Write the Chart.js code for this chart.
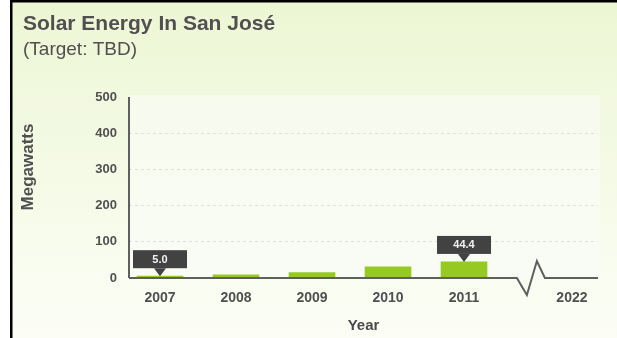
<!DOCTYPE html>
<html>
<head>
<meta charset="utf-8">
<style>
  html, body { margin: 0; padding: 0; background: #ffffff; }
  canvas { display: block; }
</style>
<script src="https://cdn.jsdelivr.net/npm/chart.js@4/dist/chart.umd.min.js"></script>
</head>
<body>
<canvas id="solar" width="617" height="338"></canvas>
<script>
// Installed solar capacity by year
const years = ['2007', '2008', '2009', '2010', '2011'];
const megawatts = [5.0, 9, 15, 31, 44.4];
// Labels along the year axis (2022 sits past the axis break)
const tickLabels = ['2007', '2008', '2009', '2010', '2011', '2022'];
// Years whose value is shown in a callout
const calloutYears = ['2007', '2011'];
const yTickValues = [0, 100, 200, 300, 400, 500];

const chartTitle = 'Solar Energy In San José';
const chartSubtitle = '(Target: TBD)';
const yAxisTitle = 'Megawatts';
const xAxisTitle = 'Year';

// Axis layout: years sit on unit steps, the target year is pushed out past a break
const BREAK_AT = 4.88;
const tickPositions = tickLabels.map((_, i) => (i < years.length ? i : i + 0.42));

const TEXT = '#505050';
const FONT = '"Liberation Sans", Arial, Helvetica, sans-serif';

const backdrop = {
  id: 'backdrop',
  beforeDraw(chart) {
    const { ctx, chartArea: a } = chart;
    const W = chart.width, H = chart.height;
    ctx.save();
    ctx.fillStyle = '#ffffff';
    ctx.fillRect(0, 0, W, H);
    const g = ctx.createLinearGradient(0, 0, 0, H);
    g.addColorStop(0, '#edf6d3');
    g.addColorStop(0.35, '#f2f9e1');
    g.addColorStop(1, '#fcfef6');
    ctx.fillStyle = g;
    ctx.fillRect(11, 0, W - 11, H);
    // lighter plotting panel
    const pg = ctx.createLinearGradient(0, a.top, 0, a.bottom);
    pg.addColorStop(0, '#f7fbee');
    pg.addColorStop(1, '#f9fcf4');
    ctx.fillStyle = pg;
    ctx.fillRect(a.left, a.top - 2, a.right - a.left + 2, a.bottom - a.top + 2);
    // frame edges
    ctx.fillStyle = '#000000';
    ctx.fillRect(10, 0, 2.5, H);
    ctx.fillRect(10, 0, W - 10, 2.5);
    // heading
    ctx.fillStyle = TEXT;
    ctx.textAlign = 'left';
    ctx.textBaseline = 'alphabetic';
    ctx.font = 'bold 21px ' + FONT;
    ctx.fillText(chartTitle, 23, 30);
    ctx.font = '19px ' + FONT;
    ctx.fillText(chartSubtitle, 23, 55);
    // value axis title
    ctx.translate(33, 167);
    ctx.rotate(-Math.PI / 2);
    ctx.textAlign = 'center';
    ctx.font = 'bold 17px ' + FONT;
    ctx.fillText(yAxisTitle, 0, 0);
    ctx.restore();
  }
};

const axisLines = {
  id: 'axisLines',
  afterDatasetsDraw(chart) {
    const { ctx, chartArea: a, scales } = chart;
    const y0 = a.bottom;
    const bx = scales.x.getPixelForValue(BREAK_AT);
    ctx.save();
    ctx.strokeStyle = '#5f5f5f';
    ctx.lineWidth = 2;
    ctx.lineJoin = 'miter';
    ctx.beginPath();
    ctx.moveTo(a.left, a.top);
    ctx.lineTo(a.left, y0);
    ctx.stroke();
    ctx.beginPath();
    ctx.moveTo(a.left, y0);
    ctx.lineTo(bx - 14, y0);
    ctx.lineTo(bx - 4, y0 + 17);
    ctx.lineTo(bx + 6, y0 - 17);
    ctx.lineTo(bx + 14, y0);
    ctx.lineTo(a.right, y0);
    ctx.stroke();
    ctx.restore();
  }
};

const callouts = {
  id: 'callouts',
  afterDraw(chart) {
    const { ctx } = chart;
    const meta = chart.getDatasetMeta(0);
    ctx.save();
    calloutYears.forEach(year => {
      const i = years.indexOf(year);
      const bar = meta.data[i];
      if (!bar) return;
      const x = bar.x, tip = bar.y;
      const w = 54, h = 18, arrow = 8;
      ctx.fillStyle = '#424242';
      ctx.beginPath();
      ctx.moveTo(x, tip);
      ctx.lineTo(x - 6, tip - arrow);
      ctx.lineTo(x + 6, tip - arrow);
      ctx.closePath();
      ctx.fill();
      ctx.fillRect(x - w / 2, tip - arrow - h, w, h);
      ctx.fillStyle = '#f2f2f2';
      ctx.font = 'bold 11px ' + FONT;
      ctx.textAlign = 'center';
      ctx.textBaseline = 'middle';
      ctx.fillText(megawatts[i].toFixed(1), x, tip - arrow - h / 2 + 0.5);
    });
    ctx.restore();
  }
};

new Chart(document.getElementById('solar'), {
  type: 'bar',
  data: {
    datasets: [{
      label: yAxisTitle,
      data: years.map((y, i) => ({ x: i, y: megawatts[i] })),
      backgroundColor: '#97c923',
      borderWidth: 0,
      barThickness: 46
    }]
  },
  options: {
    responsive: false,
    animation: false,
    events: [],
    layout: { padding: { left: 11, top: 97, right: 19, bottom: 0 } },
    plugins: {
      legend: { display: false },
      tooltip: { enabled: false },
      title: { display: false }
    },
    scales: {
      x: {
        type: 'linear',
        offset: false,
        min: -0.408,
        max: 5.763,
        afterBuildTicks: s => { s.ticks = tickPositions.map(v => ({ value: v })); },
        afterFit: s => { s.height = 60; },
        grid: { display: false, drawTicks: false, offset: false },
        border: { display: false },
        ticks: {
          autoSkip: false,
          maxRotation: 0,
          padding: 12,
          color: TEXT,
          font: { family: FONT, size: 14, weight: 'bold' },
          callback: (v, i) => tickLabels[i]
        },
        title: {
          display: true,
          text: xAxisTitle,
          color: '#4a4a4a',
          font: { family: FONT, size: 15, weight: 'bold' },
          padding: { top: 0, bottom: 3 }
        }
      },
      y: {
        min: 0,
        max: 500,
        afterBuildTicks: s => { s.ticks = yTickValues.map(v => ({ value: v })); },
        afterFit: s => { s.width = 118; },
        grid: {
          drawTicks: false,
          lineWidth: 1,
          color: c => (c.tick && (c.tick.value === 0 || c.tick.value === 500)) ? 'rgba(0,0,0,0)' : 'rgba(0,0,0,0.10)'
        },
        border: { display: false, dash: [3, 3] },
        ticks: {
          padding: 12,
          color: TEXT,
          font: { family: FONT, size: 13, weight: 'bold' }
        }
      }
    }
  },
  plugins: [backdrop, axisLines, callouts]
});
</script>
</body>
</html>
